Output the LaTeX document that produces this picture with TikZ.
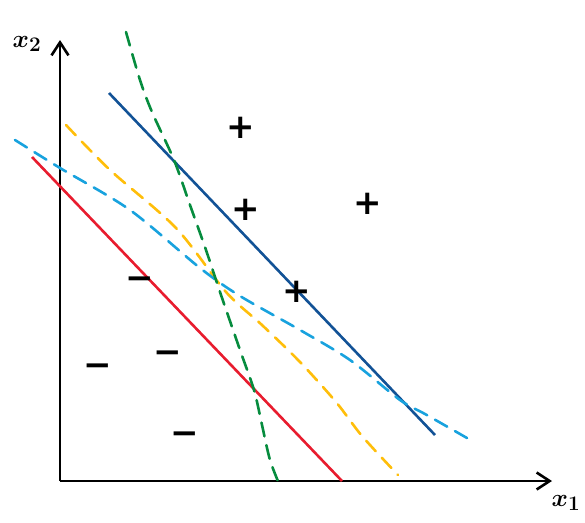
\documentclass[tikz,border=0pt]{standalone}
\usepackage{amsmath, amssymb}
\usepackage{xcolor}
\usepackage{fontspec}
\usetikzlibrary{arrows.meta}

\newfontfamily\markfont{DejaVu Sans}

\definecolor{sepred}{RGB}{232,28,46}
\definecolor{sepblue}{RGB}{18,82,150}
\definecolor{sepyellow}{RGB}{255,190,10}
\definecolor{sepcyan}{RGB}{24,162,222}
\definecolor{sepgreen}{RGB}{6,140,62}

\tikzset{
  axis/.style={line width=2.6pt, -{Straight Barb[length=13pt,width=17pt,line width=2.6pt]}},
  sepline/.style={line width=2.6pt},
  sepdash/.style={line width=2.6pt, dash pattern=on 14pt off 9pt, line cap=round},
  mark label/.style={font=\markfont\bfseries\fontsize{34}{34}\selectfont, inner sep=0pt},
  axis label/.style={font=\boldmath\fontsize{30}{30}\selectfont, inner sep=0pt}
}

\begin{document}
\begin{tikzpicture}[x=1pt, y=-1pt]
\useasboundingbox (0,0) rectangle (585,522);

% Axes
\coordinate (origin) at (60,481);
\coordinate (xend) at (552,481);
\coordinate (yend) at (60,40);
\draw[axis] (origin) -- (xend);
\draw[axis] (origin) -- (yend);
\node[axis label] (xlabel) at (566,503) {$x_1$};
\node[axis label] (ylabel) at (27,44) {$x_2$};

% Solid separating lines
\draw[sepline, sepred] (32,157) -- (342,481);
\draw[sepline, sepblue] (109,93) -- (435,435);

% Dashed separating curves
\draw[sepdash, sepyellow] plot[smooth] coordinates
  {(66,125) (110,170) (176,228) (226,292) (262,325) (300,362) (336,402) (362,436) (398,475)};
\draw[sepdash, sepcyan] plot[smooth] coordinates
  {(15,140) (60,168) (130,210) (200,268) (240,296) (300,330) (350,360) (400,400) (425,414) (467,438)};
\draw[sepdash, sepgreen] plot[smooth] coordinates
  {(126,32) (140,80) (152,112) (174,160) (190,205) (206,250) (220,292) (240,350) (254,390) (262,425) (270,460) (280,486)};

% Positive samples
\node[mark label] (p1) at (241,128) {+};
\node[mark label] (p2) at (246,210) {+};
\node[mark label] (p3) at (368,204) {+};
\node[mark label] (p4) at (297,292) {+};

% Negative samples
\node[mark label] (n1) at (140,283) {−};
\node[mark label] (n2) at (98,370) {−};
\node[mark label] (n3) at (168,357) {−};
\node[mark label] (n4) at (185,438) {−};

\end{tikzpicture}
\end{document}
